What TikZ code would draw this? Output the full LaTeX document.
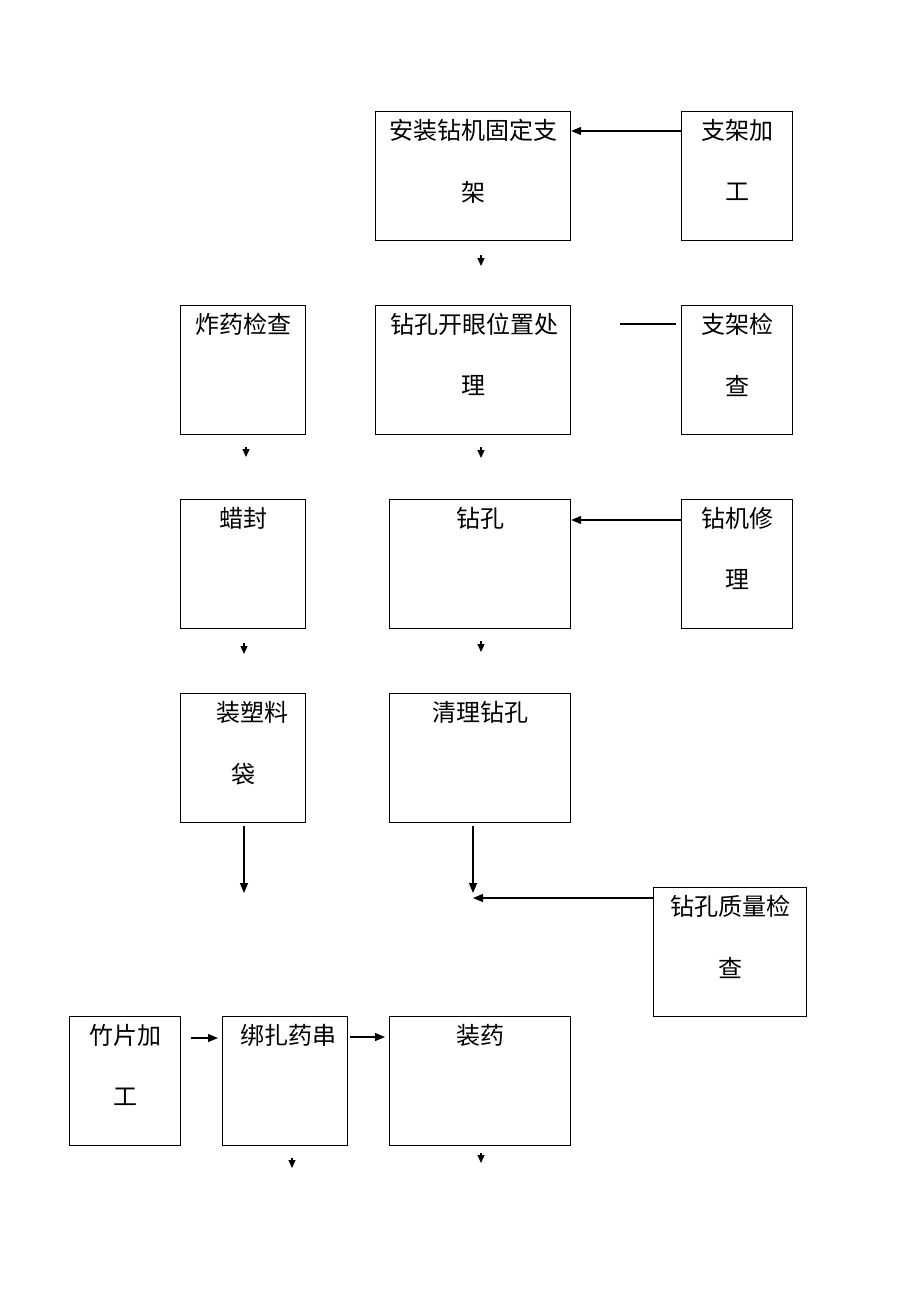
\documentclass[tikz,border=0pt]{standalone}
\usepackage{fontspec}
\setmainfont{Noto Sans CJK SC}
\usetikzlibrary{arrows.meta,calc}
\begin{document}
\begin{tikzpicture}[x=1pt,y=-1pt,line width=1.2pt,
  box/.style={draw,rectangle,anchor=north west,inner sep=0pt,minimum height=129pt},
  lbl/.style={font=\fontsize{24}{24}\selectfont,inner sep=0pt},
  arr/.style={-{Triangle[length=10pt,width=8pt]}},
  sarr/.style={-{Triangle[length=8pt,width=7pt]}}]
\useasboundingbox[fill=white] (0,0) rectangle (920,1302);
% boxes
\node[box,minimum width=195pt] (b1) at (375,111) {};
\node[box,minimum width=111pt] (b2) at (681,111) {};
\node[box,minimum width=125pt] (b3) at (180,305) {};
\node[box,minimum width=195pt] (b4) at (375,305) {};
\node[box,minimum width=111pt] (b5) at (681,305) {};
\node[box,minimum width=125pt] (b6) at (180,499) {};
\node[box,minimum width=181pt] (b7) at (389,499) {};
\node[box,minimum width=111pt] (b8) at (681,499) {};
\node[box,minimum width=125pt] (b9) at (180,693) {};
\node[box,minimum width=181pt] (b10) at (389,693) {};
\node[box,minimum width=153pt] (b11) at (653,887) {};
\node[box,minimum width=111pt] (b12) at (69,1016) {};
\node[box,minimum width=125pt] (b13) at (222,1016) {};
\node[box,minimum width=181pt] (b14) at (389,1016) {};
% labels
\node[lbl] (t1a) at ($(b1.north)+(0,19)$) {安装钻机固定支};
\node[lbl] (t1b) at ($(b1.north)+(0,81)$) {架};
\node[lbl] (t2a) at ($(b2.north)+(0,19)$) {支架加};
\node[lbl] (t2b) at ($(b2.north)+(0,81)$) {工};
\node[lbl] (t3a) at ($(b3.north)+(0,19)$) {炸药检查};
\node[lbl] (t4a) at ($(b4.north)+(1,19)$) {钻孔开眼位置处};
\node[lbl] (t4b) at ($(b4.north)+(0,81)$) {理};
\node[lbl] (t5a) at ($(b5.north)+(0,19)$) {支架检};
\node[lbl] (t5b) at ($(b5.north)+(0,81)$) {查};
\node[lbl] (t6a) at ($(b6.north)+(0,19)$) {蜡封};
\node[lbl] (t7a) at ($(b7.north)+(0,19)$) {钻孔};
\node[lbl] (t8a) at ($(b8.north)+(0,19)$) {钻机修};
\node[lbl] (t8b) at ($(b8.north)+(0,81)$) {理};
\node[lbl] (t9a) at ($(b9.north)+(9,19)$) {装塑料};
\node[lbl] (t9b) at ($(b9.north)+(0,81)$) {袋};
\node[lbl] (t10a) at ($(b10.north)+(0,19)$) {清理钻孔};
\node[lbl] (t11a) at ($(b11.north)+(0,19)$) {钻孔质量检};
\node[lbl] (t11b) at ($(b11.north)+(0,81)$) {查};
\node[lbl] (t12a) at ($(b12.north)+(0,19)$) {竹片加};
\node[lbl] (t12b) at ($(b12.north)+(0,81)$) {工};
\node[lbl] (t13a) at ($(b13.north)+(3,19)$) {绑扎药串};
\node[lbl] (t14a) at ($(b14.north)+(0,19)$) {装药};
% connectors between boxes
\draw[arr] ($(b2.north west)+(0,20)$) -- ($(b1.north east)+(0,20)$);
\draw[arr] ($(b8.north west)+(0,21)$) -- ($(b7.north east)+(0,21)$);
\coordinate (l1) at (620,324);
\draw (l1) -- ($(b5.north west)+(-5,19)$);
% vertical arrows to free points
\coordinate (p9) at (244,893);
\coordinate (p10) at (473,893);
\coordinate (q10) at (473,898);
\draw[arr] (b9.south -| p9) ++(0,3) -- (p9);
\draw[arr] (b10.south -| p10) ++(0,3) -- (p10);
\draw[arr] ($(b11.north west)+(0,11)$) -- (q10);
% horizontal arrows bottom row
\draw[arr] ($(b12.north east)+(10,22)$) -- ($(b13.north west)+(-4,22)$);
\draw[arr] ($(b13.north east)+(2,21)$) -- ($(b14.north west)+(-4,21)$);
% small stand-alone arrows
\coordinate (s1a) at (481,255); \coordinate (s1b) at (481,266);
\coordinate (s2a) at (246,447); \coordinate (s2b) at (246,457);
\coordinate (s3a) at (481,447); \coordinate (s3b) at (481,458);
\coordinate (s4a) at (244,643); \coordinate (s4b) at (244,654);
\coordinate (s5a) at (481,641); \coordinate (s5b) at (481,652);
\coordinate (s6a) at (292,1158); \coordinate (s6b) at (292,1168);
\coordinate (s7a) at (481,1153); \coordinate (s7b) at (481,1163);
\foreach \i in {1,...,7} {\draw[sarr] (s\i a) -- (s\i b);}
\end{tikzpicture}
\end{document}
